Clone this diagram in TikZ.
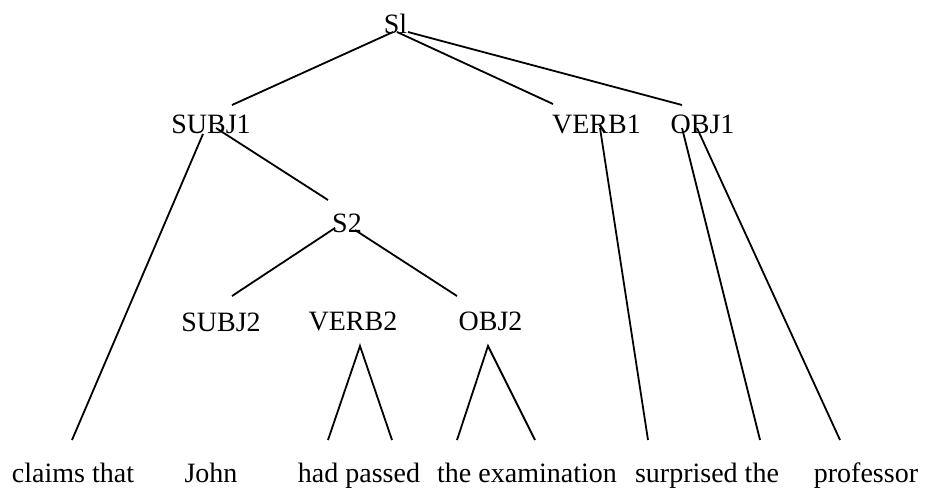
\documentclass[tikz,border=0pt]{standalone}
\usepackage{fontspec}
\setmainfont{Liberation Serif}
\usepackage{tikz}

\begin{document}
\begin{tikzpicture}[x=1pt,y=-1pt,
    lbl/.style={inner sep=0,anchor=base,font=\fontsize{28}{34}\selectfont},
    every path/.style={line width=1.8pt}]
    \useasboundingbox (0,0) rectangle (925,488);

    \node[lbl] (S1) at (395.5,33) {Sl};
    \node[lbl] (SUBJ1) at (211,133) {SUBJ1};
    \node[lbl] (VERB1) at (596.5,133) {VERB1};
    \node[lbl] (OBJ1) at (702.5,133) {OBJ1};
    \node[lbl] (S2) at (347,232) {S2};
    \node[lbl] (SUBJ2) at (221,331) {SUBJ2};
    \node[lbl] (VERB2) at (353,330) {VERB2};
    \node[lbl] (OBJ2) at (490.5,330) {OBJ2};

    \node[lbl] (W1) at (73,482) {claims that};
    \node[lbl] (W2) at (211,482) {John};
    \node[lbl] (W3) at (359,482) {had passed};
    \node[lbl] (W4) at (527,482) {the examination};
    \node[lbl] (W5) at (707,482) {surprised the};
    \node[lbl] (W6) at (866,482) {professor};

    \draw ([shift={(-2.5,-1)}]S1.base) -- ([shift={(21,-28)}]SUBJ1.base);
    \draw ([shift={(1.5,-1)}]S1.base) -- ([shift={(-43.5,-29)}]VERB1.base);
    \draw ([shift={(12.5,-1)}]S1.base) -- ([shift={(-20.5,-28)}]OBJ1.base);

    \draw ([shift={(-8,1)}]SUBJ1.base) -- ([shift={(-1,-42)}]W1.base);
    \draw ([shift={(5,-5)}]SUBJ1.base) -- ([shift={(-19,-32)}]S2.base);
    \draw ([shift={(-12,-4)}]S2.base) -- ([shift={(11,-35)}]SUBJ2.base);
    \draw ([shift={(8,-2)}]S2.base) -- ([shift={(-33.5,-34)}]OBJ2.base);

    \draw ([shift={(-31,-42)}]W3.base) -- ([shift={(7,16)}]VERB2.base) -- ([shift={(33,-42)}]W3.base);
    \draw ([shift={(-70,-42)}]W4.base) -- ([shift={(-2.5,16)}]OBJ2.base) -- ([shift={(8,-42)}]W4.base);

    \draw ([shift={(3.5,-5)}]VERB1.base) -- ([shift={(-59,-42)}]W5.base);
    \draw ([shift={(-20.5,-5)}]OBJ1.base) -- ([shift={(53,-42)}]W5.base);
    \draw ([shift={(-5.5,-5)}]OBJ1.base) -- ([shift={(-26,-42)}]W6.base);
  \end{tikzpicture}
\end{document}
